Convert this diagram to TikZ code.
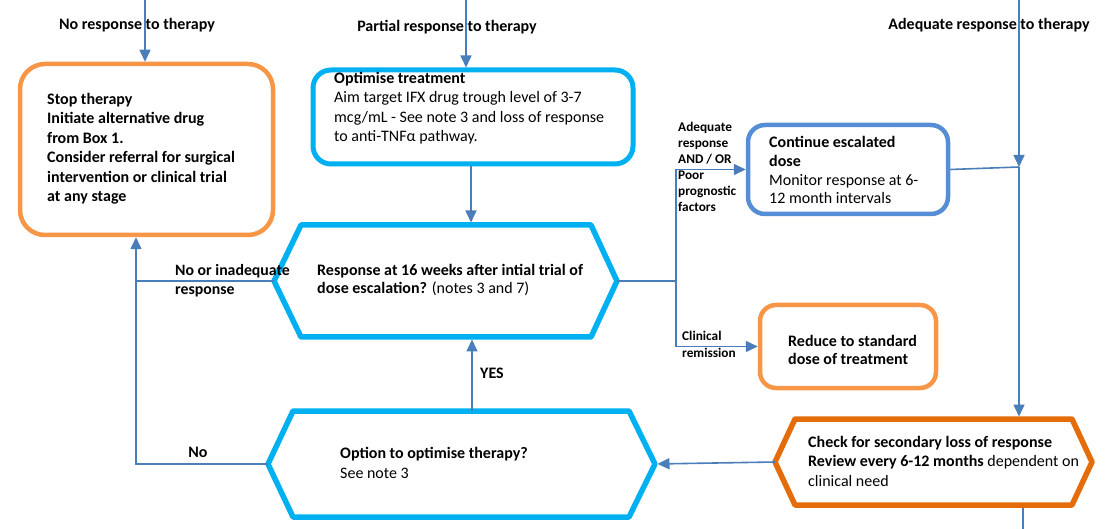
\documentclass[tikz,border=0pt]{standalone}
\usepackage{fontspec}
\setmainfont{Carlito}
\usetikzlibrary{arrows.meta,calc}
\definecolor{cyanb}{HTML}{00B0F0}
\definecolor{orL}{HTML}{F79646}
\definecolor{orD}{HTML}{E46C0A}
\definecolor{blueC}{HTML}{558ED5}
\definecolor{connc}{HTML}{4A7EBB}
\begin{document}
\begin{tikzpicture}[x=1pt,y=-1pt,
  conn/.style={draw=connc, line width=1.6pt},
  arr/.style={conn, -{Triangle[length=12pt,width=11pt]}},
  txt/.style={anchor=base west, inner sep=0pt, align=left, font=\fontsize{16}{19.5}\selectfont},
  txtb/.style={txt, font=\bfseries\fontsize{16}{19.5}\selectfont},
  smalll/.style={anchor=base west, inner sep=0pt, align=left, font=\bfseries\fontsize{13.3}{16}\selectfont},
  rbox/.style={rectangle, inner sep=0pt},
  hexin/.style={rectangle, inner sep=0pt, outer sep=0pt},
  hexline/.style={line width=5.5pt, line join=round}
]
\useasboundingbox (0,0) rectangle (1114,529);

% boxes
\node[rbox, rounded corners=25pt, draw=orL, line width=4.5pt, minimum width=253pt, minimum height=171pt] (stop) at (146.5,149.5) {};
\node[rbox, rounded corners=18pt, draw=cyanb, line width=5pt, minimum width=320pt, minimum height=94pt] (opt) at (473,117) {};
\node[rbox, rounded corners=17pt, draw=blueC, line width=4.5pt, minimum width=200pt, minimum height=89pt] (cont) at (848,169.5) {};
\node[rbox, rounded corners=16pt, draw=orL, line width=4.5pt, minimum width=176pt, minimum height=83pt] (red) at (848,346.5) {};

% hexagons
\node[hexin, minimum width=290pt, minimum height=112pt] (hx1) at (446,281) {};
\draw[hexline, draw=cyanb] (hx1.north west) -- (hx1.north east) -- ($(hx1.center)+(171,0)$) coordinate (hx1r)
  -- (hx1.south east) -- (hx1.south west) -- ($(hx1.center)+(-172,0)$) coordinate (hx1l) -- cycle;
\node[hexin, minimum width=336pt, minimum height=106pt] (hx2) at (461,464) {};
\draw[hexline, draw=cyanb] (hx2.north west) -- (hx2.north east) -- ($(hx2.center)+(194,0)$) coordinate (hx2r)
  -- (hx2.south east) -- (hx2.south west) -- ($(hx2.center)+(-193,0)$) coordinate (hx2l) -- cycle;
\node[hexin, minimum width=277pt, minimum height=86pt] (chk) at (933.5,462) {};
\draw[hexline, draw=orD] (chk.north west) -- (chk.north east) -- ($(chk.center)+(158.5,0)$) coordinate (chkr)
  -- (chk.south east) -- (chk.south west) -- ($(chk.center)+(-158.5,0)$) coordinate (chkl) -- cycle;

% texts (base anchor = baseline of last line)
\node[txtb] (stopt) at (47,202) {Stop therapy\\Initiate alternative drug\\from Box 1.\\Consider referral for surgical\\intervention or clinical trial\\at any stage};
\node[txt] (optt) at (334,142) {\textbf{Optimise treatment}\\Aim target IFX drug trough level of 3-7\\mcg/mL - See note 3 and loss of response\\to anti-TNFα pathway.};
\node[txt, font=\fontsize{16}{18.7}\selectfont] (hx1t) at (317,294) {\textbf{Response at 16 weeks after intial trial of}\\\textbf{dose escalation?} (notes 3 and 7)};
\node[txt, font=\fontsize{16}{20}\selectfont] (hx2t) at (340,478) {\textbf{Option to optimise therapy?}\\See note 3};
\node[txt, font=\fontsize{16}{18.7}\selectfont] (contt) at (769,204) {\textbf{Continue escalated}\\\textbf{dose}\\Monitor response at 6-\\12 month intervals};
\node[txtb, font=\bfseries\fontsize{16}{18}\selectfont] (redt) at (788,364) {Reduce to standard\\dose of treatment};
\node[txt] (chkt) at (808,486) {\textbf{Check for secondary loss of response}\\\textbf{Review every 6-12 months} dependent on\\clinical need};

% labels
\node[txtb, anchor=base] (l1) at (137,30) {No response to therapy};
\node[txtb, anchor=base] (l2) at (447,32) {Partial response to therapy};
\node[txtb, anchor=base] (l3) at (989,30) {Adequate response to therapy};
\node[smalll] (ladq) at (678,212) {Adequate\\response\\AND / OR\\Poor\\prognostic\\factors};
\node[smalll, font=\bfseries\fontsize{13.3}{17}\selectfont] (lcr) at (682,357) {Clinical\\remission};
\node[txtb, font=\bfseries\fontsize{15.8}{19}\selectfont] (lno1) at (175,295) {No or inadequate\\response};
\node[txtb, anchor=base] (lno2) at (198,457) {No};
\node[txtb, anchor=base] (lyes) at (492,378) {YES};

% connectors
\coordinate (t1) at (145,0);
\coordinate (t2) at (466,0);
\coordinate (t3) at (1019,0);
\coordinate (j3) at (1019,167);
\coordinate (o1) at (471,0);
\coordinate (lx) at (136,0);
\coordinate (yx) at (472,0);
\coordinate (jx) at (676,281);
\coordinate (b1) at (1023,529);

\draw[arr] (t1) -- (t1 |- stop.north);
\draw[arr] (t2) -- (t2 |- opt.north);
\draw[arr] (t3) -- (j3);
\draw[arr, shorten >=2.5pt] (j3) -- (j3 |- chk.north);
\draw[arr, shorten >=2.5pt] (o1 |- opt.south) -- (o1 |- hx1.north);
\draw[conn] (hx1l) -- (hx1l -| lx);
\draw[arr] (hx2l) -| (lx |- stop.south);
\draw[arr, shorten >=2.5pt] (yx |- hx2.north) -- (yx |- hx1.south);
\draw[conn, line width=2.5pt] (hx1r) -- (jx);
\draw[arr] (jx) |- (cont.west);
\draw[arr] (jx) |- (red.west);
\draw[conn] (cont.east) -- (j3);
\draw[arr, shorten >=2.5pt] (chkl) -- (hx2r);
\draw[conn] (b1 |- chk.south) ++(0,2.5) -- (b1);
\end{tikzpicture}
\end{document}
